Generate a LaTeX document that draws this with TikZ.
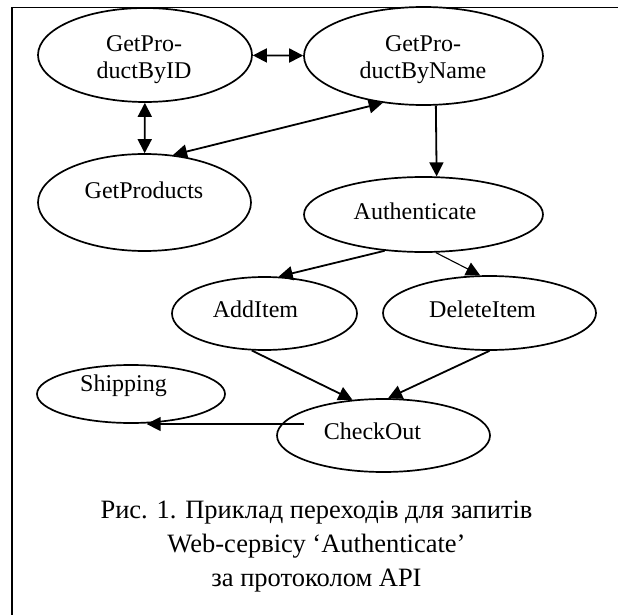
\documentclass[tikz,border=0pt]{standalone}
\usepackage{fontspec}
\setmainfont{Liberation Serif}
\usetikzlibrary{shapes.geometric,arrows.meta}
\begin{document}
\begin{tikzpicture}[x=1pt,y=-1pt,
  ell/.style={ellipse,draw,line width=1.7pt,inner sep=0pt},
  lbl/.style={font=\fontsize{24}{27}\selectfont,align=center,inner sep=0pt,anchor=base},
  captxt/.style={font=\fontsize{26.5}{34}\selectfont,align=center,inner sep=0pt,anchor=base},
  arr/.style={line width=1.8pt,-{Triangle[length=14pt,width=14pt]}},
  thinarr/.style={line width=1.1pt,-{Triangle[length=14pt,width=14pt]}},
  barr/.style={line width=1.8pt,{Triangle[length=14pt,width=14pt]}-{Triangle[length=14pt,width=14pt]}},
  framestyle/.style={line width=1.3pt}]
\useasboundingbox (0,0) rectangle (618,615);
% frame (cut at the right and bottom edges)
\draw[framestyle] (618,7.3) -- (12,7.3) -- (12,615);
% ellipses
\node[ell,minimum width=214pt,minimum height=94pt] (byid) at (145,55) {};
\node[ell,minimum width=239pt,minimum height=98pt] (byname) at (423.5,56) {};
\node[ell,minimum width=213pt,minimum height=97pt] (prods) at (144.5,202.5) {};
\node[ell,minimum width=239pt,minimum height=75pt] (auth) at (423.5,214.5) {};
\node[ell,minimum width=185pt,minimum height=73pt] (add) at (264.5,313.5) {};
\node[ell,minimum width=213pt,minimum height=74pt] (del) at (489.5,313) {};
\node[ell,minimum width=188pt,minimum height=58pt] (ship) at (131,394) {};
\node[ell,minimum width=213pt,minimum height=73pt] (check) at (383.5,435.5) {};
% labels (base = baseline of the last line)
\node[lbl] (byid-t) at (144,79) {GetPro-\\ductByID};
\node[lbl] (byname-t) at (423,79) {GetPro-\\ductByName};
\node[lbl] (prods-t) at (144,198) {GetProducts};
\node[lbl] (auth-t) at (415,219) {Authenticate};
\node[lbl] (add-t) at (255.5,317) {AddItem};
\node[lbl] (del-t) at (482.5,317) {DeleteItem};
\node[lbl] (ship-t) at (123.5,391) {Shipping};
\node[lbl] (check-t) at (372.5,439) {CheckOut};
% connectors
\draw[barr] (byid) -- (byname);
\draw[barr] (byid) -- (prods);
\draw[barr] (prods.59) -- (byname.229);
\draw[arr] (byname.284.4) -- (auth.71.5);
\draw[arr] (auth.223.5) -- (add.69.7);
\draw[thinarr] (auth.288.4) -- (del.104.4);
\draw[arr] (add.251.1) -- (check.131.7);
\draw[arr] (del.270) -- (check.83);
\coordinate (chkout) at (304,424);
\draw[line width=1.4pt,-{Triangle[length=14pt,width=14pt]}] (chkout) -- (chkout -| ship.298);
% caption
\node[captxt] (caption) at (316.5,586) {Рис. 1. Приклад переходів для запитів\\Web-сервісу ‘Authenticate’\\за протоколом API};
\end{tikzpicture}
\end{document}
